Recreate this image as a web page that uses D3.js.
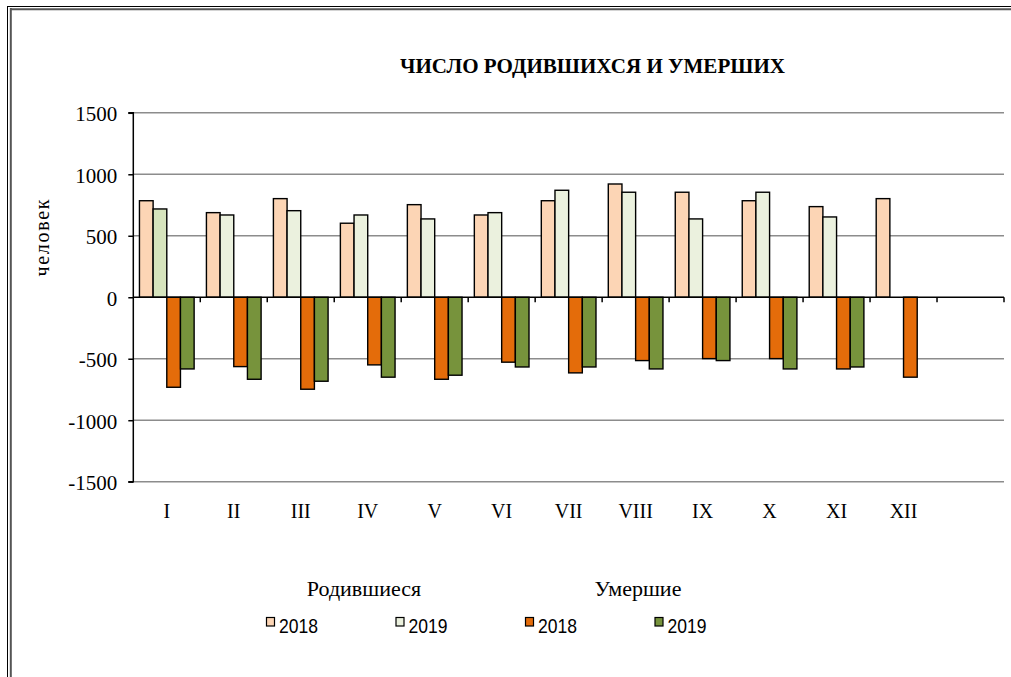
<!DOCTYPE html>
<html>
<head>
<meta charset="utf-8">
<script src="https://cdn.jsdelivr.net/npm/d3@7"></script>
<style>
  html, body { margin: 0; padding: 0; background: #fff; }
  svg { display: block; }
</style>
</head>
<body>
<svg id="chart" width="1011" height="677"></svg>
<script>
// ---- data ----
const months = ["I","II","III","IV","V","VI","VII","VIII","IX","X","XI","XII"];
const births2018 = [785, 688, 802, 602, 753, 669, 785, 921, 854, 785, 737, 802];
const births2019 = [718, 669, 704, 669, 637, 688, 870, 854, 637, 854, 653, null];
const deaths2018 = [-732, -564, -748, -550, -667, -528, -615, -515, -499, -499, -583, -650];
const deaths2019 = [-583, -667, -683, -650, -634, -567, -567, -583, -515, -583, -567, null];
const yTicks = [-1500, -1000, -500, 0, 500, 1000, 1500];
const seriesNames = ["Р2018", "Р2019", "У2018", "У2019"];
const legendLabels = ["2018", "2019", "2018", "2019"];
const groupLabels = ["Родившиеся", "Умершие"];
const titleText = "ЧИСЛО РОДИВШИХСЯ И УМЕРШИХ";
const yLabel = "человек";

// ---- styles ----
const colors = ["#FCD5B5", "#EBF1DE", "#E46C0A", "#77933C"];
const firstPointOverride = { series: 1, index: 0, color: "#D7E4BD" };

(function () {
const svg = d3.select("#chart");
const pLeft = 133.3, pRight = 1004, pTop = 112.8, pBottom = 481.7;

// frame
svg.append("line").attr("x1", 7.5).attr("x2", 7.5).attr("y1", 6).attr("y2", 677).attr("stroke", "#000").attr("stroke-width", 1);
svg.append("line").attr("x1", 7).attr("x2", 1011).attr("y1", 6.5).attr("y2", 6.5).attr("stroke", "#000").attr("stroke-width", 1);
svg.append("line").attr("x1", 10.8).attr("x2", 10.8).attr("y1", 8).attr("y2", 677).attr("stroke", "#555").attr("stroke-width", 2);
svg.append("line").attr("x1", 10).attr("x2", 1011).attr("y1", 9.2).attr("y2", 9.2).attr("stroke", "#555").attr("stroke-width", 2);

const categories = months.concat([" "]);
const x = d3.scaleBand().domain(categories).range([pLeft, pRight]).paddingInner(0).paddingOuter(0);
const xs = d3.scaleBand().domain(seriesNames).range([0, x.bandwidth()]).paddingInner(0).paddingOuter(0.45);
const y = d3.scaleLinear().domain([-1500, 1500]).range([pBottom, pTop]);

// gridlines
svg.append("g").selectAll("line").data(yTicks.filter(t => t !== 0)).join("line")
  .attr("x1", pLeft).attr("x2", pRight)
  .attr("y1", d => y(d)).attr("y2", d => y(d))
  .attr("stroke", "#8c8c8c").attr("stroke-width", 1.5);

// y axis
const yAxis = d3.axisLeft(y).tickValues(yTicks).tickSize(5).tickPadding(11).tickFormat(d => String(d));
const gy = svg.append("g").attr("transform", `translate(${pLeft},0)`).call(yAxis);
gy.select(".domain").attr("stroke", "#000").attr("stroke-width", 1.5).attr("d", `M-5,${pTop}H0V${pBottom}H-5`);
gy.selectAll(".tick line").attr("stroke", "#000").attr("stroke-width", 1.5);
gy.selectAll(".tick text").attr("font-family", "'Liberation Serif', 'Times New Roman', serif")
  .attr("font-size", 21).attr("fill", "#000").attr("dy", "0.38em");

// bars
const allSeries = [births2018, births2019, deaths2018, deaths2019];
const barData = [];
allSeries.forEach((vals, si) => {
  vals.forEach((v, i) => {
    if (v === null || v === undefined) return;
    barData.push({ si, i, v });
  });
});
svg.append("g").selectAll("rect").data(barData).join("rect")
  .attr("x", d => x(months[d.i]) + xs(seriesNames[d.si]))
  .attr("width", xs.bandwidth())
  .attr("y", d => Math.min(y(d.v), y(0)))
  .attr("height", d => Math.abs(y(d.v) - y(0)))
  .attr("fill", d => (d.si === firstPointOverride.series && d.i === firstPointOverride.index) ? firstPointOverride.color : colors[d.si])
  .attr("stroke", "#000").attr("stroke-width", 1.4);

// x axis at zero
const xAxis = d3.axisBottom(x).tickSize(0).tickFormat("");
const gx = svg.append("g").attr("transform", `translate(0,${y(0)})`).call(xAxis);
gx.select(".domain").attr("stroke", "#000").attr("stroke-width", 1.5).attr("d", `M${pLeft},0H${pRight}`);
gx.selectAll(".tick").remove();
const boundaries = categories.map(c => x(c) + x.bandwidth());
svg.append("g").selectAll("line").data(boundaries).join("line")
  .attr("x1", d => d).attr("x2", d => d)
  .attr("y1", y(0)).attr("y2", y(0) + 5)
  .attr("stroke", "#000").attr("stroke-width", 1.5);

// category labels
svg.append("g").selectAll("text").data(months).join("text")
  .attr("x", d => x(d) + x.bandwidth() / 2)
  .attr("y", 518)
  .attr("text-anchor", "middle")
  .attr("font-family", "'Liberation Serif', 'Times New Roman', serif")
  .attr("font-size", 20)
  .text(d => d);

// title
svg.append("text")
  .attr("x", 592.5).attr("y", 73)
  .attr("text-anchor", "middle")
  .attr("font-family", "'Liberation Serif', 'Times New Roman', serif")
  .attr("font-weight", "bold")
  .attr("font-size", 20)
  .attr("textLength", 385).attr("lengthAdjust", "spacingAndGlyphs")
  .text(titleText);

// y label
svg.append("text")
  .attr("transform", "translate(49,238) rotate(-90)")
  .attr("text-anchor", "middle")
  .attr("font-family", "'Liberation Serif', 'Times New Roman', serif")
  .attr("font-size", 20)
  .attr("textLength", 77).attr("lengthAdjust", "spacing")
  .text(yLabel);

// legend group labels
const groupCenters = [364, 638];
svg.append("g").selectAll("text").data(groupLabels).join("text")
  .attr("x", (d, i) => groupCenters[i]).attr("y", 596)
  .attr("text-anchor", "middle")
  .attr("font-family", "'Liberation Serif', 'Times New Roman', serif")
  .attr("font-size", 22)
  .text(d => d);

// legend items
const legX0 = 266, legStep = 129.5;
const leg = svg.append("g").selectAll("g").data(legendLabels).join("g")
  .attr("transform", (d, i) => `translate(${legX0 + i * legStep},0)`);
leg.append("rect").attr("x", 0.5).attr("y", 617.5).attr("width", 8).attr("height", 8.5)
  .attr("fill", (d, i) => colors[i]).attr("stroke", "#000").attr("stroke-width", 1.2);
leg.append("text").attr("x", 13).attr("y", 633)
  .attr("font-family", "'Liberation Sans Narrow', 'Arial Narrow', 'Liberation Sans', Arial, sans-serif")
  .attr("font-size", 21)
  .attr("textLength", 39).attr("lengthAdjust", "spacingAndGlyphs")
  .text(d => d);
})();
</script>
</body>
</html>
